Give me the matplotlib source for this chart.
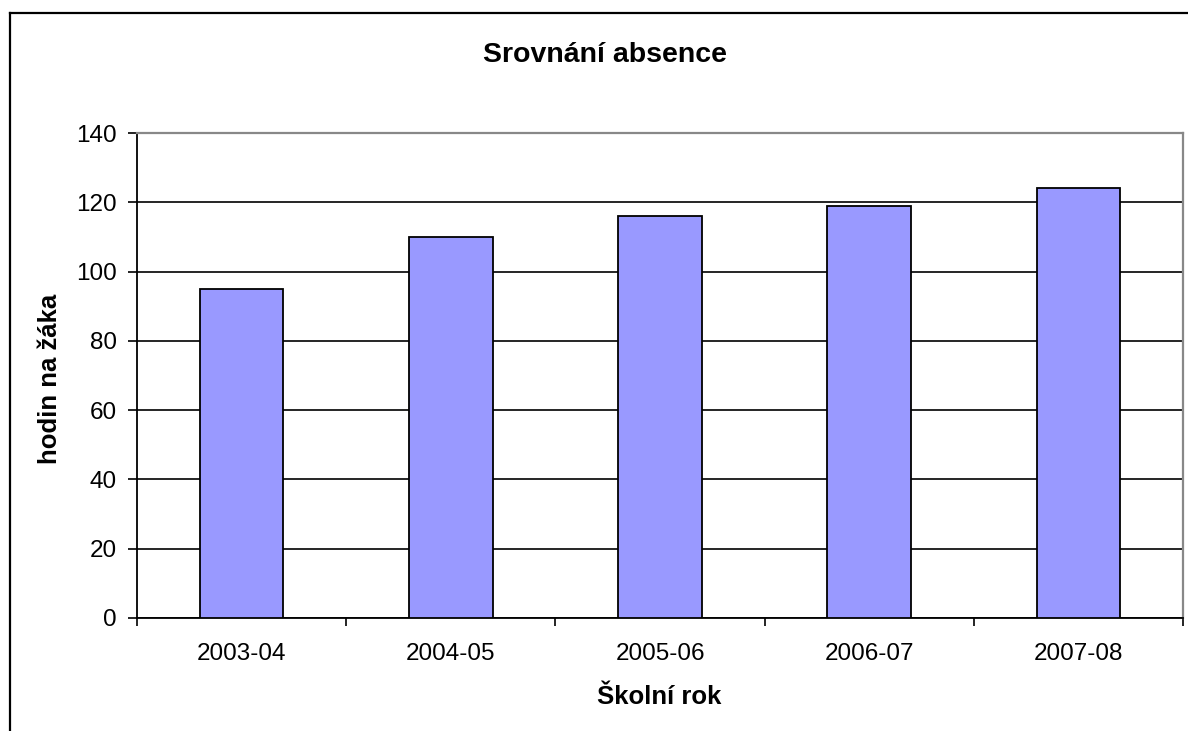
import numpy as np
import matplotlib
matplotlib.use('Agg')
import matplotlib.pyplot as plt
from matplotlib.lines import Line2D

# data
years = ['2003-04', '2004-05', '2005-06', '2006-07', '2007-08']
hours = [95, 110, 116, 119, 124]

TITLE = 'Srovnání absence'
XLABEL = 'Školní rok'
YLABEL = 'hodin na žáka'

plt.rcParams['font.family'] = ['Liberation Sans', 'DejaVu Sans']

W, H = 1188, 731
fig = plt.figure(figsize=(W / 100, H / 100), dpi=100)
ax = fig.add_axes([137 / W, 1 - 618 / H, (1183 - 137) / W, (618 - 133) / H])

x = np.arange(len(years))
ax.bar(x, hours, width=0.4, color='#9999FF', edgecolor='black', linewidth=1.3,
       zorder=3)

ax.set_xlim(-0.5, len(years) - 0.5)
ax.set_ylim(0, 140)
ax.set_yticks(np.arange(0, 141, 20))
ax.yaxis.grid(True, color='black', linewidth=1.2, zorder=0)

# category ticks sit between bars, labels in the middle
ax.set_xticks(np.arange(-0.5, len(years)), labels=[''] * (len(years) + 1))
ax.set_xticks(x, labels=years, minor=True)
ax.tick_params(axis='x', which='major', direction='out', length=6, width=1.2)
ax.tick_params(axis='x', which='minor', length=0, pad=18, labelsize=17.5)
ax.tick_params(axis='y', direction='out', length=6.5, width=1.2, pad=8,
               labelsize=17.5)

for s in ['left', 'bottom']:
    ax.spines[s].set_color('black')
    ax.spines[s].set_linewidth(1.3)
for s in ['top', 'right']:
    ax.spines[s].set_color('#888888')
    ax.spines[s].set_linewidth(1.6)

fig.text(605 / W, 1 - 55 / H, TITLE, ha='center', va='center',
         fontsize=20.5, fontweight='bold')
fig.text(659 / W, 1 - 697 / H, XLABEL, ha='center', va='center',
         fontsize=18.5, fontweight='bold')
fig.text(50 / W, 1 - 379 / H, YLABEL, ha='center', va='center',
         rotation=90, fontsize=18.5, fontweight='bold')

# chart area border (only top and left are visible in the crop)
top = 1 - 12.5 / H
left = 10 / W
fig.add_artist(Line2D([left, 1], [top, top], color='black', linewidth=1.6,
                      transform=fig.transFigure))
fig.add_artist(Line2D([left, left], [0, top], color='black', linewidth=1.6,
                      transform=fig.transFigure))

fig.savefig('out.png', dpi=100)
